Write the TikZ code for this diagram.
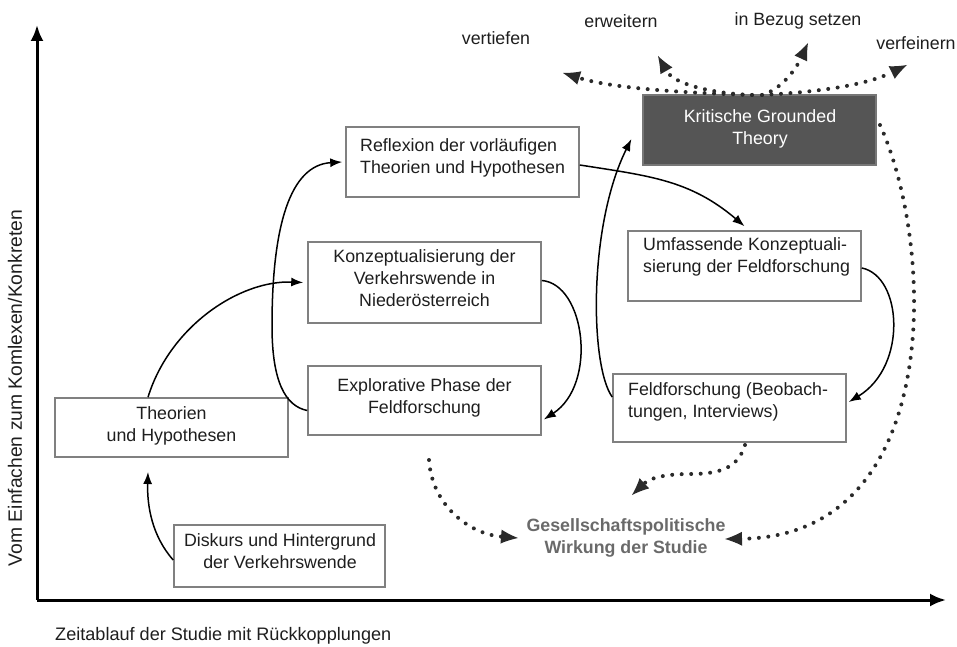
\documentclass[tikz,border=0pt]{standalone}
\usepackage{fontspec}
\setmainfont{Liberation Sans}
\usetikzlibrary{arrows.meta}
\definecolor{boxgray}{HTML}{808080}
\definecolor{ink}{HTML}{1E1E1E}
\definecolor{darkfill}{HTML}{555555}
\definecolor{dotgray}{HTML}{2A2A2A}
\definecolor{effect}{HTML}{6A6A6A}
\begin{document}
\begin{tikzpicture}[x=1pt,y=1pt,
  box/.style={draw=boxgray, line width=1.6pt, inner sep=0pt, minimum width=233pt},
  darkbox/.style={fill=darkfill, draw=darkfill!80!white, line width=1.2pt, inner sep=0pt, minimum width=233pt},
  txt/.style={font=\fontsize{17.8}{22}\selectfont, text=ink, inner sep=0pt},
  flow/.style={draw=black, line width=1.5pt, -{Latex[length=12pt,width=9pt]}},
  dots/.style={draw=dotgray, line width=4pt, line cap=round, dash pattern=on 0pt off 9.5pt,
               -{Latex[length=17pt,width=14pt,line width=0pt]}},
  axis/.style={draw=black, line width=3pt, -{Latex[length=16pt,width=13pt]}}]
\useasboundingbox (0,0) rectangle (957,646);

% axes
\coordinate (origin) at (37,46);
\coordinate (ytop) at (37,621);
\coordinate (xend) at (946,46);
\draw[axis] (origin) -- (ytop);
\draw[axis] (origin) -- (xend);
\node[txt, font=\fontsize{18.1}{22}\selectfont, anchor=base west] (xlabel) at (55,6) {Zeitablauf der Studie mit Rückkopplungen};
\node[txt, font=\fontsize{19.3}{22}\selectfont, rotate=90] (ylabel) at (15,258) {Vom Einfachen zum Komlexen/Konkreten};

% process boxes
\node[box, minimum height=59pt] (theo) at (171.5,218.5) {};
\node[txt, align=center] (theo-t) at (171.5,220) {Theorien\\und Hypothesen};

\node[box, minimum width=211pt, minimum height=62pt] (disk) at (279.5,90) {};
\node[txt, align=center] (disk-t) at (280,95) {Diskurs und Hintergrund\\der Verkehrswende};

\node[box, minimum height=69pt] (expl) at (424.5,245.5) {};
\node[txt, align=center] (expl-t) at (424.5,248.5) {Explorative Phase der\\Feldforschung};

\node[box, minimum height=81pt] (konz) at (424.5,363.5) {};
\node[txt, align=center] (konz-t) at (424.5,368) {Konzeptualisierung der\\Verkehrswende in\\Niederösterreich};

\node[box, minimum height=70pt] (refl) at (462.5,484) {};
\node[txt, align=left, anchor=west] (refl-t) at (360,488) {Reflexion der vorläufigen\\Theorien und Hypothesen};

\node[darkbox, minimum height=70pt] (krit) at (759.5,516) {};
\node[txt, align=center, text=white] (krit-t) at (760,517) {Kritische Grounded\\Theory};

\node[box, minimum height=70pt] (umf) at (744.5,380) {};
\node[txt, align=left, anchor=west] (umf-t) at (643,389) {Umfassende Konzeptuali-\\sierung der Feldforschung};

\node[box, minimum height=68pt] (feld) at (729.5,238) {};
\node[txt, align=left, anchor=west] (feld-t) at (628,244) {Feldforschung (Beobach-\\tungen, Interviews)};

\node[txt, align=center, font=\bfseries\fontsize{17.8}{22}\selectfont, text=effect] (wirk) at (626,108)
  {Gesellschaftspolitische\\Wirkung der Studie};

% words around the theory box
\node[txt] (vertiefen) at (496,608) {vertiefen};
\node[txt] (erweitern) at (621,625) {erweitern};
\node[txt] (bezug) at (798,625) {in Bezug setzen};
\node[txt] (verfeinern) at (916,603) {verfeinern};

% solid flow of the study
\draw[flow] (disk.west) ++(0,-4) coordinate (d0)
  .. controls (152,110) and (147,140) .. (148,174) coordinate (t0);
\draw[flow] (theo.north -| 148,0) .. controls (170,320) and (240,366) .. ([xshift=-4pt]konz.west);
\draw[flow] ([yshift=-10pt]expl.west) .. controls (285,240) and (272,265) .. (272,320)
  .. controls (272,420) and (290,481) .. ([xshift=-3pt]refl.west);
\draw[flow] ([yshift=2pt]konz.east) .. controls (585,362) and (598,262) .. ([xshift=2pt,yshift=-19pt]expl.east);
\draw[flow] ([yshift=-3pt]refl.east) .. controls (650,470) and (690,466) .. ([yshift=4pt]umf.north);
\draw[flow] ([yshift=-2pt]umf.east) .. controls (902,370) and (908,280) .. ([xshift=2pt,yshift=6pt]feld.east);
\draw[flow] ([yshift=11pt]feld.west) .. controls (590,280) and (588,420) .. ([xshift=-11pt,yshift=-9pt]krit.west);

% dotted effects
\coordinate (k1) at (752,551);
\coordinate (k2) at (762,551);
\coordinate (tipA) at (563,573);
\coordinate (tipB) at (658,590);
\coordinate (tipC) at (808,603);
\coordinate (tipD) at (907,581);
\draw[dots] (k1) .. controls (690,553) and (615,557) .. (tipA);
\draw[dots] (k1) .. controls (720,552) and (675,560) .. (tipB);
\draw[dots] (k2) .. controls (780,556) and (795,575) .. (tipC);
\draw[dots] (k2) .. controls (800,553) and (860,558) .. (tipD);

\coordinate (kr) at (880,521);
\coordinate (wr) at (725,107);
\draw[dots] (kr) .. controls (935,400) and (945,110) .. (wr);

\coordinate (ex) at (429,186);
\coordinate (wl) at (518,108);
\draw[dots] (ex) .. controls (432,140) and (470,112) .. (wl);

\coordinate (fe) at (745,201);
\coordinate (wt) at (632,151);
\draw[dots] (fe) .. controls (738,178) and (720,172) .. (690,172)
  .. controls (665,172) and (650,168) .. (wt);
\end{tikzpicture}
\end{document}
